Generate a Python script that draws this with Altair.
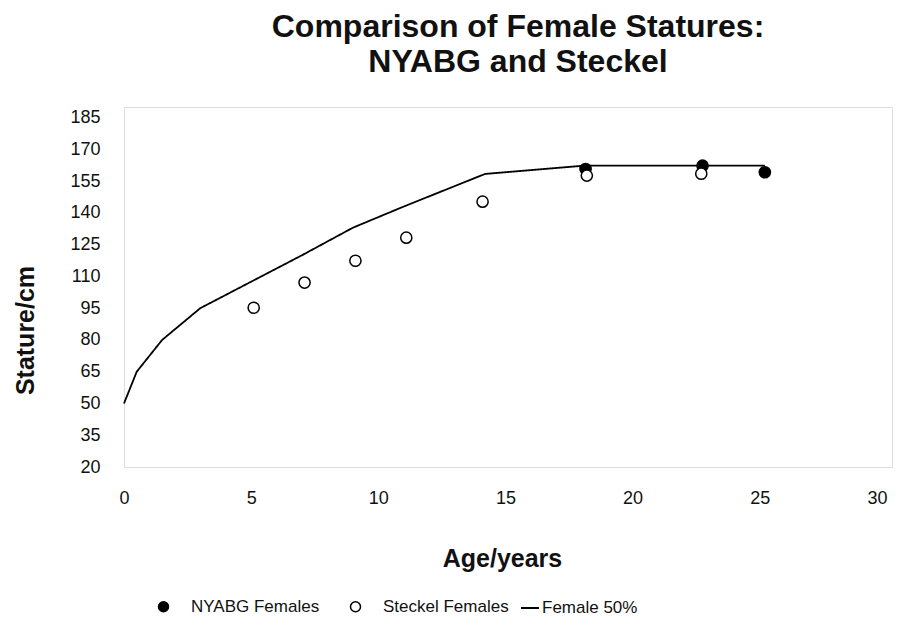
import altair as alt
import pandas as pd

# ---- data ----
point_series = ["NYABG Females", "Steckel Females"]
line_series = ["Female 50%"]

line_age = [0, 0.5, 1.5, 3, 5, 7, 9, 11, 14.2, 18.1, 25.2]
line_stature = [50, 65, 80, 95, 107.5, 120, 133, 143, 158.4, 162.3, 162.3]

nyabg_age = [18.15, 22.75, 25.2]
nyabg_stature = [160.7, 162.3, 159.2]

steckel_age = [5.1, 7.1, 9.1, 11.1, 14.1, 18.2, 22.7]
steckel_stature = [95.2, 107.1, 117.4, 128.3, 145.3, 157.6, 158.5]

x_ticks = [0, 5, 10, 15, 20, 25, 30]
y_ticks = [20, 35, 50, 65, 80, 95, 110, 125, 140, 155, 170, 185]

line_df = pd.DataFrame({"age": line_age, "stature": line_stature, "series": line_series[0]})
nyabg_df = pd.DataFrame({"age": nyabg_age, "stature": nyabg_stature, "series": point_series[0]})
steckel_df = pd.DataFrame({"age": steckel_age, "stature": steckel_stature, "series": point_series[1]})

FONT = "Liberation Sans"

x_enc = alt.X(
    "age:Q",
    scale=alt.Scale(domain=[0, 30.2], nice=False, zero=False),
    axis=alt.Axis(
        values=x_ticks, title="Age/years", grid=False, ticks=False, domain=False,
        labelFont=FONT, labelFontSize=18, labelColor="#111", labelPadding=22,
        labelFlush=False, labelOverlap=False, labelBound=False,
        labelAlign={"condition": {"test": "datum.value >= 30", "value": "right"}, "value": "center"},
        titleFont=FONT, titleFontSize=25, titleFontWeight="bold", titleColor="#111",
        titleX=378, titleY=91, titleBaseline="middle", titleAlign="center",
    ),
)
y_enc = alt.Y(
    "stature:Q",
    scale=alt.Scale(domain=[20, 190], nice=False, zero=False),
    axis=alt.Axis(
        values=y_ticks, title="Stature/cm", grid=False, ticks=False, domain=False,
        labelFont=FONT, labelFontSize=18, labelColor="#111", labelPadding=24,
        labelOverlap=False, labelBound=False, labelSeparation=0,
        titleFont=FONT, titleFontSize=25, titleFontWeight="bold", titleColor="#111",
        titleX=-99, titleY=223, titleAngle=-90, titleBaseline="middle", titleAlign="center",
    ),
)

LEG_Y = 491
point_legend = alt.Legend(
    title=None, orient="none", legendX=31, legendY=LEG_Y, direction="horizontal",
    labelFont=FONT, labelFontSize=17, labelColor="#111", labelOffset=19,
    columnPadding=27, symbolSize=100, symbolStrokeWidth=1.5,
    padding=0,
)
line_legend = alt.Legend(
    title=None, orient="none", legendX=396, legendY=LEG_Y, direction="horizontal",
    labelFont=FONT, labelFontSize=17, labelColor="#111", labelOffset=2,
    symbolType="stroke", symbolSize=324, symbolStrokeWidth=1.8, symbolStrokeColor="black",
    padding=0,
)

fill_enc = alt.Fill(
    "series:N",
    scale=alt.Scale(domain=point_series, range=["black", "white"]),
    legend=point_legend,
)
stroke_enc = alt.Stroke(
    "series:N",
    scale=alt.Scale(domain=point_series, range=["black", "black"]),
    legend=point_legend,
)
shape_enc = alt.Shape(
    "series:N",
    scale=alt.Scale(domain=point_series, range=["circle", "circle"]),
    legend=point_legend,
)
dash_enc = alt.StrokeDash(
    "series:N",
    scale=alt.Scale(domain=line_series, range=[[1, 0]]),
    legend=line_legend,
)

line = alt.Chart(line_df).mark_line(strokeWidth=1.8, color="black").encode(
    x=x_enc, y=y_enc, strokeDash=dash_enc)
nyabg = alt.Chart(nyabg_df).mark_point(
    filled=True, size=125, strokeWidth=1.5, opacity=1
).encode(x=x_enc, y=y_enc, fill=fill_enc, stroke=stroke_enc, shape=shape_enc)
steckel = alt.Chart(steckel_df).mark_point(
    filled=True, size=125, strokeWidth=1.5, opacity=1
).encode(x=x_enc, y=y_enc, fill=fill_enc, stroke=stroke_enc, shape=shape_enc)

chart = alt.layer(line, nyabg, steckel).properties(
    width=768,
    height=360,
    autosize=alt.AutoSizeParams(type="none"),
    padding={"left": 116, "top": 99, "right": 1, "bottom": 151},
    title=alt.TitleParams(
        text=["Comparison of Female Statures:", "NYABG and Steckel"],
        font=FONT, fontSize=32, fontWeight="bold", color="#111",
        lineHeight=35, anchor="middle", dx=10, offset=28,
    ),
).configure_view(stroke="#9a9a9a", strokeWidth=1.5).configure(background="white")

chart.save("out.html", embed_options={"renderer": "svg", "actions": False})
